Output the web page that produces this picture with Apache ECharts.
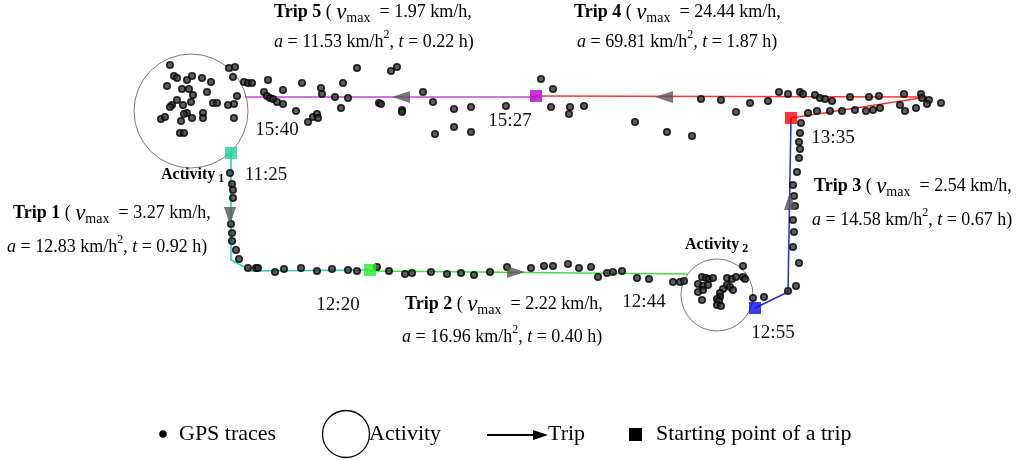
<!DOCTYPE html>
<html><head><meta charset="utf-8">
<script src="https://cdn.jsdelivr.net/npm/echarts@6/dist/echarts.min.js"></script>
<style>html,body{margin:0;padding:0;background:#fff}#c{width:1024px;height:460px}</style>
</head><body><div id="c"></div>
<script>
// ---- data (plane coordinates of the trace map) ----
var gpsActivity1 = [[170,65],[229,68],[235,67],[174,76],[177,78],[187,80],[192,76],[202,78],[211,82],[233,77],[167,86],[182,89],[189,89],[207,92],[193,95],[237,96],[177,100],[172,105],[170,107],[191,102],[213,103],[217,103],[228,105],[234,104],[183,105],[187,113],[184,114],[203,113],[203,118],[192,118],[161,119],[165,117],[181,121],[234,118],[180,133],[184,133]];
var gpsTrip5 = [[244,82],[248,83],[252,83],[268,80],[264,92],[267,96],[270,98],[273,99],[277,102],[283,90],[283,104],[296,111],[302,83],[308,122],[313,117],[317,114],[318,118],[321,88],[322,94],[335,97],[343,83],[348,98],[341,108],[357,68],[391,71],[397,67],[379,103],[381,104],[402,110],[402,112],[423,92],[433,102],[454,109],[471,107],[435,134],[454,127],[471,132],[506,106]];
var gpsTrip4 = [[541,79],[553,89],[551,107],[570,107],[569,114],[584,106],[635,122],[667,132],[692,136],[701,99],[721,100],[736,112],[750,103],[768,101],[779,92],[788,94],[800,92],[803,94],[815,95],[820,98],[825,99],[832,101],[850,97],[869,97],[879,96],[904,94],[921,94],[922,98],[929,100],[927,104],[941,103],[808,113],[817,111],[830,111],[842,111],[855,110],[866,111],[873,110],[880,108],[900,105],[905,111],[916,108]];
var gpsTrip3 = [[801,123],[800,133],[799,142],[800,149],[799,158],[797,172],[793,185],[794,196],[795,206],[793,220],[794,232],[793,247],[799,263],[796,286],[788,291],[764,297],[753,298]];
var gpsActivity2 = [[702,277],[706,278],[709,279],[713,278],[698,284],[703,286],[708,285],[698,292],[703,290],[727,278],[732,279],[736,277],[743,277],[745,279],[727,285],[723,289],[720,293],[720,297],[717,299],[719,301],[717,305],[721,306],[730,287],[733,290],[702,300],[743,266],[680,282]];
var gpsTrip2 = [[377,267],[389,271],[405,274],[412,273],[431,272],[447,274],[461,273],[474,275],[490,272],[507,267],[531,268],[544,266],[553,266],[568,264],[579,268],[591,267],[598,277],[607,273],[613,272],[622,271],[637,278],[649,279],[673,282],[684,281]];
var gpsTrip1 = [[230,173],[232,184],[233,190],[233,198],[231,224],[232,233],[232,241],[236,250],[239,259],[248,268],[256,268],[258,268],[275,272],[284,269],[301,268],[317,271],[332,269],[348,270],[357,271]];

var trip1Path = [[231,153],[231,260],[252,271],[370,270]];
var trip2Path = [[370,271],[687,274]];
var trip3Path = [[755,308],[788,292],[791,118]];
var trip4Path = [[791,118],[927,97],[536,96]];
var trip5Path = [[536,97],[245,97]];

var startPoints = [[231,153],[370,270],[755,308],[791,118],[536,96]];
var startColors = ['#1ccf9c','#22ee22','#0a0af0','#ff0000','#bb00cc'];
var arrows = [[230,216,180],[516,272,-90],[790,201,0],[664,97,90],[401,97,90]]; // x, y, heading
var activities = [[191,111,57],[717,295,36]]; // x, y, radius
var timeLabels = [['15:40',277,130],['15:27',510,121],['13:35',833,138],['11:25',266,175],['12:20',338,305],['12:44',644,302],['12:55',773,333]];
var trips = [
  {name:'Trip 5', v:'1.97', a:'11.53', t:'0.22'},
  {name:'Trip 4', v:'24.44', a:'69.81', t:'1.87'},
  {name:'Trip 3', v:'2.54', a:'14.58', t:'0.67'},
  {name:'Trip 1', v:'3.27', a:'12.83', t:'0.92'},
  {name:'Trip 2', v:'2.22', a:'16.96', t:'0.40'}
];

// ---- chart ----
var chart = echarts.init(document.getElementById('c'));
var SERIF = '"Liberation Serif","DejaVu Serif",serif';
var allGps = [].concat(gpsActivity1, gpsTrip5, gpsTrip4, gpsTrip3, gpsActivity2, gpsTrip2, gpsTrip1);

function pathSeries(name, data, color) {
  return {type:'line', name:name, data:data, symbol:'none', z:3,
    lineStyle:{color:color, width:1.6}, animation:false, silent:true};
}

var richBase = {
  b:{fontFamily:SERIF, fontSize:18, fontWeight:'bold', color:'#111', lineHeight:26, verticalAlign:'middle'},
  n:{fontFamily:SERIF, fontSize:18, color:'#111', lineHeight:26, verticalAlign:'middle'},
  v:{fontFamily:SERIF, fontSize:23, fontStyle:'italic', color:'#111', lineHeight:26, verticalAlign:'middle'},
  s:{fontFamily:SERIF, fontSize:14, color:'#111', lineHeight:14, verticalAlign:'bottom'},
  i:{fontFamily:SERIF, fontSize:18, fontStyle:'italic', color:'#111', lineHeight:26, verticalAlign:'middle'},
  p:{fontFamily:SERIF, fontSize:12, color:'#111', lineHeight:12, verticalAlign:'top'}
};
function tripLine1(tr){ return '{b|' + tr.name + '}{n| ( }{v|v}{s|max}{n|  = ' + tr.v + ' km/h,}'; }
function tripLine2(tr){ return '{i|a}{n| = ' + tr.a + ' km/h}{p|2}{n|, }{i|t}{n| = ' + tr.t + ' h)}'; }
var tripPos = [[274,14,274,42],[574,14,577,42],[814,188,812,220],[13,215,7,247],[405,306,402,337]];

var graphics = [];
trips.forEach(function(tr, k){
  var p = tripPos[k];
  graphics.push({type:'text', left:p[0], top:p[1]-13, style:{text:tripLine1(tr), rich:richBase}});
  graphics.push({type:'text', left:p[2], top:p[3]-13, style:{text:tripLine2(tr), rich:richBase}});
});
timeLabels.forEach(function(t){
  graphics.push({type:'text', x:t[1], y:t[2], style:{text:t[0], fontFamily:SERIF, fontSize:19, fill:'#111', align:'center', verticalAlign:'middle'}});
});
var actRich = {
  a:{fontFamily:SERIF, fontSize:16, fontWeight:'bold', color:'#111', lineHeight:20, verticalAlign:'middle'},
  d:{fontFamily:SERIF, fontSize:12, fontWeight:'bold', color:'#111', lineHeight:12, verticalAlign:'bottom'}
};
graphics.push({type:'text', left:161, top:167, style:{text:'{a|Activity}{d| 1}', rich:actRich}});
graphics.push({type:'text', left:685, top:237, style:{text:'{a|Activity}{d| 2}', rich:actRich}});

// legend
var LY = 434;
graphics.push({type:'circle', shape:{cx:163, cy:LY, r:3.8}, style:{fill:'#000'}});
graphics.push({type:'text', x:179, y:LY, style:{text:'GPS traces', fontFamily:SERIF, fontSize:22, fill:'#000', verticalAlign:'middle'}});
graphics.push({type:'circle', shape:{cx:346, cy:LY, r:23.5}, style:{fill:'none', stroke:'#000', lineWidth:1.3}});
graphics.push({type:'text', x:369, y:LY, style:{text:'Activity', fontFamily:SERIF, fontSize:22, fill:'#000', verticalAlign:'middle'}});
graphics.push({type:'line', shape:{x1:487, y1:LY+1, x2:536, y2:LY+1}, style:{stroke:'#000', lineWidth:2}});
graphics.push({type:'polygon', shape:{points:[[533,LY-4],[548,LY+1],[533,LY+6]]}, style:{fill:'#000'}});
graphics.push({type:'text', x:548, y:LY, style:{text:'Trip', fontFamily:SERIF, fontSize:22, fill:'#000', verticalAlign:'middle'}});
graphics.push({type:'rect', shape:{x:629, y:LY-6, width:13, height:13}, style:{fill:'#000'}});
graphics.push({type:'text', x:656, y:LY, style:{text:'Starting point of a trip', fontFamily:SERIF, fontSize:22, fill:'#000', verticalAlign:'middle'}});

var option = {
  animation:false,
  backgroundColor:'#fff',
  grid:{left:0, right:0, top:0, bottom:0},
  xAxis:{type:'value', min:0, max:1024, show:false},
  yAxis:{type:'value', min:0, max:460, inverse:true, show:false},
  series:[
    {type:'scatter', name:'Activity', z:1, silent:true,
      data:activities.map(function(a){ return {value:[a[0],a[1]], symbolSize:a[2]*2}; }),
      symbol:'circle', itemStyle:{color:'rgba(0,0,0,0)', borderColor:'#555', borderWidth:1}},
    pathSeries('Trip 1', trip1Path, '#2ad0bb'),
    pathSeries('Trip 2', trip2Path, '#44dd44'),
    pathSeries('Trip 3', trip3Path, '#3333cc'),
    pathSeries('Trip 4', trip4Path, '#ff3333'),
    pathSeries('Trip 5', trip5Path, '#cc44dd'),
    {type:'scatter', name:'GPS traces', z:4, silent:true, data:allGps, symbol:'circle', symbolSize:6.5,
      itemStyle:{color:'#333', borderColor:'#000', borderWidth:1.6}},
    {type:'scatter', name:'Direction', z:5, silent:true, symbol:'triangle',
      data:arrows.map(function(a){ return {value:[a[0],a[1]], symbolRotate:a[2]}; }),
      symbolSize:[12,18], itemStyle:{color:'#555'}},
    {type:'scatter', name:'Starting point of a trip', z:6, silent:true, symbol:'rect', symbolSize:12,
      data:startPoints.map(function(p,k){ return {value:p, itemStyle:{color:startColors[k]}}; })}
  ],
  graphic:graphics
};
chart.setOption(option);
</script></body></html>
